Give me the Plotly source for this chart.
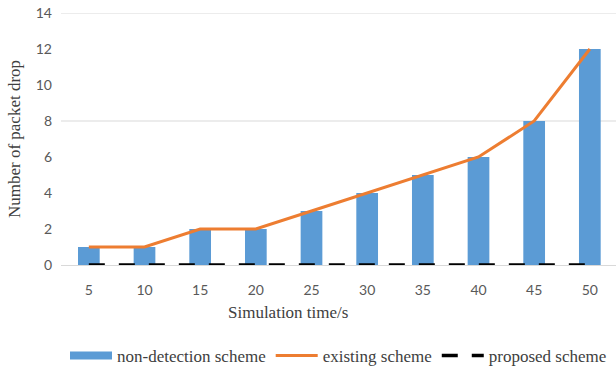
import plotly.graph_objects as go

# Simulation times (s) and packet drop counts per scheme
sim_time = ["5", "10", "15", "20", "25", "30", "35", "40", "45", "50"]
non_detection = [1, 1, 2, 2, 3, 4, 5, 6, 8, 12]
existing = [1, 1, 2, 2, 3, 4, 5, 6, 8, 12]
proposed = [0, 0, 0, 0, 0, 0, 0, 0, 0, 0]

y_ticks = [0, 2, 4, 6, 8, 10, 12, 14]
grid_levels = [8, 14]

BLUE = "#5B9BD5"
ORANGE = "#ED7D31"
SERIF = "Liberation Serif, Times New Roman, serif"
SANS = "Lato, Open Sans, Calibri, sans-serif"

fig = go.Figure()

fig.add_trace(go.Bar(
    x=sim_time, y=non_detection, name="non-detection scheme",
    marker=dict(color=BLUE, line=dict(width=0)), width=0.39,
    showlegend=False,
))
# legend swatch for the bars (wide band, like the line keys)
fig.add_trace(go.Scatter(
    x=[None], y=[None], mode="lines", name="non-detection scheme",
    line=dict(color=BLUE, width=8),
))
fig.add_trace(go.Scatter(
    x=sim_time, y=existing, mode="lines", name="existing scheme",
    line=dict(color=ORANGE, width=3),
))
fig.add_trace(go.Scatter(
    x=sim_time, y=proposed, mode="lines", name="proposed scheme",
    line=dict(color="black", width=3.5, dash="16px,14px"),
))

for g in grid_levels:
    fig.add_shape(type="line", xref="paper", yref="y", x0=0, x1=1, y0=g, y1=g,
                  line=dict(color="#D9D9D9", width=1), layer="below")

# x-axis title, placed below the tick labels
fig.add_annotation(text="Simulation time/s", xref="paper", yref="paper",
                   x=0.409, y=-0.19, xanchor="center", yanchor="middle",
                   showarrow=False, font=dict(family=SERIF, size=17, color="#404040"))

fig.update_layout(
    width=616, height=374,
    margin=dict(l=61, r=0, t=13, b=109, autoexpand=False),
    paper_bgcolor="white", plot_bgcolor="white",
    showlegend=True,
    legend=dict(orientation="h", x=0.5, xanchor="center",
                yref="container", y=0.0, yanchor="bottom",
                font=dict(family=SERIF, size=17, color="#404040"),
                itemwidth=42, traceorder="normal"),
    xaxis=dict(
        type="category", range=[-0.5, 9.47], showgrid=False,
        showline=True, linecolor="#D9D9D9", linewidth=1,
        ticks="", ticklabelstandoff=12,
        tickfont=dict(family=SANS, size=14, color="#595959"),
    ),
    yaxis=dict(
        range=[0, 14], tickvals=y_ticks, showgrid=False, zeroline=False,
        showline=False, ticks="", ticklabelstandoff=8,
        tickfont=dict(family=SANS, size=14, color="#595959"),
        title=dict(text="Number of packet drop", font=dict(family=SERIF, size=17, color="#404040"),
                   standoff=10),
    ),
)

fig.write_html("out.html")
